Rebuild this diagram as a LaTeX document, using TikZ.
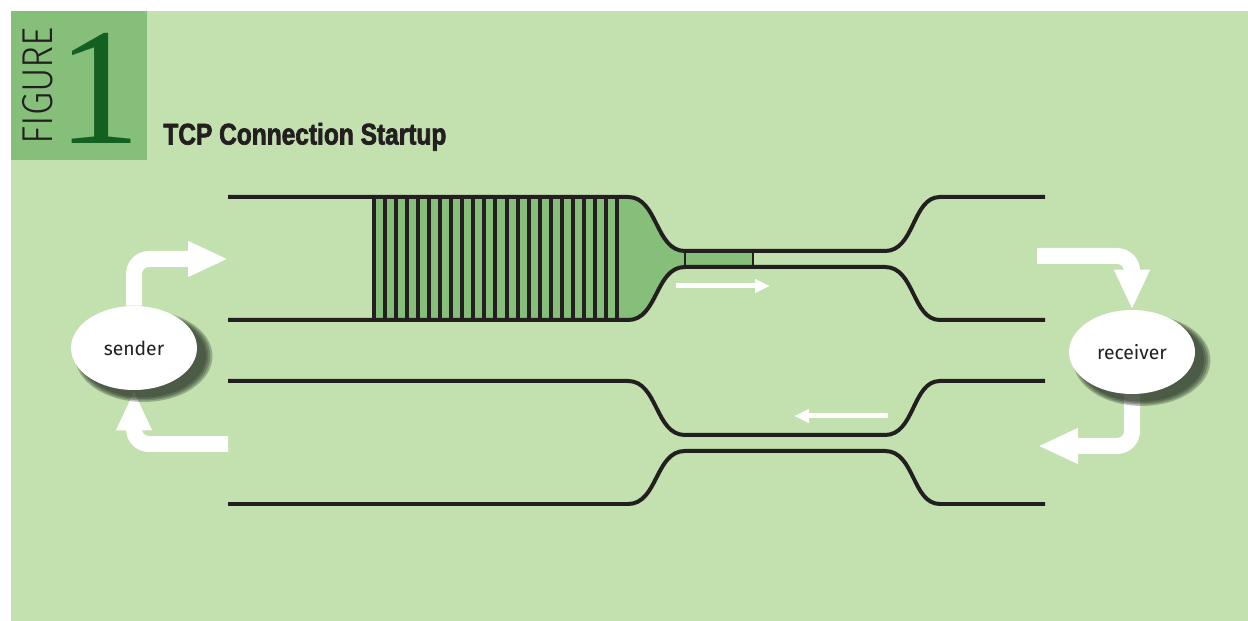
\documentclass[tikz,border=0pt]{standalone}
\usepackage{fontspec}
\setmainfont{Fira Sans}
\newfontfamily\titlefont[FakeStretch=0.82,FakeBold=2.2]{Liberation Sans}
\newfontfamily\figfont[FakeStretch=0.87]{Fira Sans Light}
\newfontfamily\numfont{Liberation Serif}
\usetikzlibrary{shapes.geometric,arrows.meta,shadows}
\pgfdeclarelayer{bglayer}
\pgfdeclarelayer{flowlayer}
\pgfsetlayers{bglayer,flowlayer,main}
\definecolor{bggreen}{HTML}{C3E0AF}
\definecolor{boxgreen}{HTML}{86BF7A}
\definecolor{darkgreen}{HTML}{136020}
\definecolor{linecol}{HTML}{231F20}
\definecolor{shadecol}{HTML}{2A3426}
\begin{document}
\begin{tikzpicture}[x=0.02cm, y=-0.02cm,
  pipe/.style={line width=0.08cm, draw=linecol},
  segbar/.style={fill=linecol},
  flow/.style={white, line width=0.32cm, rounded corners=0.3cm, -{Triangle[length=0.8cm, width=0.66cm]}},
  packet/.style={white, line width=0.1cm, -{Triangle[length=0.3cm, width=0.26cm]}},
  softshade/.style={general shadow={shadow xshift=0.18cm, shadow yshift=-0.15cm, shadow scale=#1, fill=shadecol, fill opacity=0.3}},
  host/.style={ellipse, fill=white, minimum width=2.52cm, minimum height=1.68cm, inner sep=0pt,
    font=\fontsize{11}{13}\selectfont, text=linecol,
    softshade=1.09, softshade=1.06, softshade=1.03, softshade=1.0}]
\useasboundingbox (0,0) rectangle (1248,621);
\begin{pgfonlayer}{bglayer}
\fill[white] (0,0) rectangle (1248,621);
\fill[bggreen] (11,11) rectangle (1248,621);
\fill[boxgreen] (11,11) rectangle (147,160);
\end{pgfonlayer}

% heading
\node[rotate=90, anchor=base west, inner sep=0pt, text=linecol, font=\figfont\fontsize{24.6}{26}\selectfont] (figlabel) at (52,145) {FIGURE};
\node[anchor=base, inner sep=0pt, text=darkgreen, font=\numfont\fontsize{95}{95}\selectfont] (fignum) at (99,144) {1};
\node[anchor=base west, inner sep=0pt, text=linecol, font=\titlefont\bfseries\fontsize{17}{20}\selectfont] (title) at (163,144.5) {TCP Connection Startup};

% queued segments
\fill[boxgreen] (374,197) -- (628,197) .. controls (658,197) and (655,251) .. (685,251) -- (753,251) -- (753,267) -- (685,267) .. controls (655,267) and (658,320) .. (628,320) -- (374,320) -- cycle;
\foreach \k in {0,...,22}
  \fill[segbar] ({372+\k*254/23},197) rectangle ++(4,123);
\draw[linecol, line width=0.05cm] (685,251) -- (685,267) (753,251) -- (753,267);

% pipe walls
\foreach \w/\n in {197/251, 320/267, 381/435, 504/451}
  \draw[pipe] (228,\w) -- (628,\w) .. controls (658,\w) and (655,\n) .. (685,\n) -- (885,\n) .. controls (915,\n) and (912,\w) .. (940,\w) -- (1045,\w);

% hosts
\node[host] (sender) at (134,348) {sender};
\node[host] (receiver) at (1132,352) {receiver};

% flows
\coordinate (sendin) at (228,259);
\coordinate (sendback) at (228,444);
\coordinate (recvin) at (1037,256);
\coordinate (recvback) at (1038,446);
\begin{pgfonlayer}{flowlayer}
\draw[flow] (sender.north) |- (sendin);
\draw[flow] (sendback) -| (sender.south);
\draw[flow] (recvin) -| (receiver.north);
\draw[flow] (receiver.south) |- (recvback);
\end{pgfonlayer}

% segment and ack
\coordinate (fwdtail) at (676,286);
\coordinate (fwdhead) at (770,286);
\coordinate (acktail) at (888,416);
\coordinate (ackhead) at (794,416);
\draw[packet] (fwdtail) -- (fwdhead);
\draw[packet] (acktail) -- (ackhead);
\end{tikzpicture}
\end{document}
